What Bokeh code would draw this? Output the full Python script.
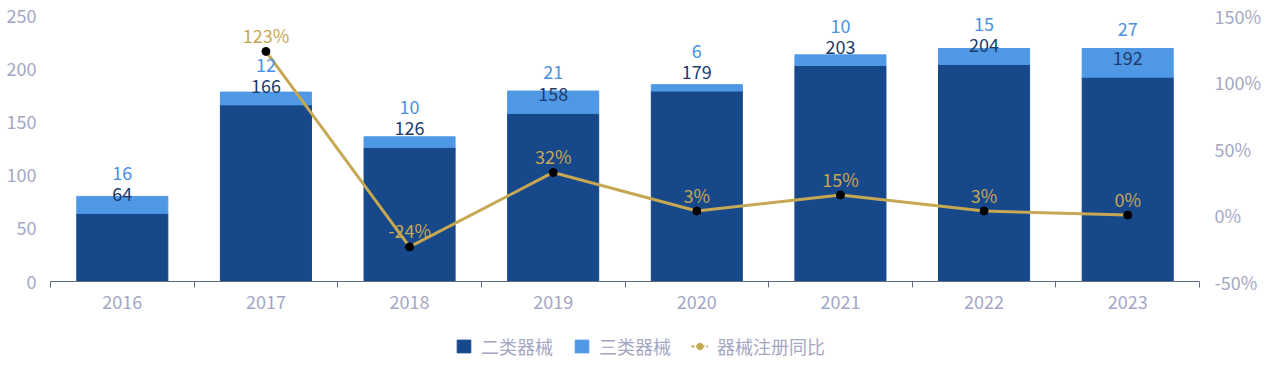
from bokeh.plotting import figure
from bokeh.layouts import column
from bokeh.models import (Range1d, LinearAxis, FixedTicker, PrintfTickFormatter,
                          Legend, LegendItem, ColumnDataSource)
from bokeh.core.properties import value
from bokeh.embed import file_html
from bokeh.resources import INLINE

# ---------------- data ----------------
years = ["2016", "2017", "2018", "2019", "2020", "2021", "2022", "2023"]
class2 = [64, 166, 126, 158, 179, 203, 204, 192]      # 二类器械
class3 = [16, 12, 10, 21, 6, 10, 15, 27]              # 三类器械
growth_years = ["2017", "2018", "2019", "2020", "2021", "2022", "2023"]
growth = [123, -24, 32, 3, 15, 3, 0]                  # 器械注册同比 (%)
left_ticks = [0, 50, 100, 150, 200, 250]
right_ticks = [-50, 0, 50, 100, 150]
series_names = ["二类器械", "三类器械", "器械注册同比"]

# ---------------- style ----------------
FONT = "Noto Sans CJK SC"
FS = "18px"
DARK = "#17488a"
LIGHT = "#4f98e6"
DARK_TXT = "#1c3b6c"
LIGHT_TXT = "#4a90e2"
GOLD = "#c6a752"
GREY = "#a4a7c4"
AXIS = "#5d6b80"

W = 1264
H1, H2 = 325, 41
BL, BR, BT, BB = 50, 52, 15, 44
frame_h = H1 - BT - BB
ppu = frame_h / (left_ticks[-1] - left_ticks[0])
pct_ppu = frame_h / (right_ticks[-1] - right_ticks[0])

# category slots: one unit per year, centre at i + 0.5
xc = [i + 0.5 for i in range(len(years))]
gx = [years.index(y) + 0.5 for y in growth_years]

p = figure(x_range=Range1d(0, len(years)),
           y_range=Range1d(left_ticks[0], left_ticks[-1]),
           width=W, height=H1, output_backend="svg", toolbar_location=None,
           x_axis_location=None, y_axis_location=None,
           min_border_left=BL, min_border_right=BR, min_border_top=BT, min_border_bottom=BB,
           outline_line_color=None, background_fill_color="white")
p.grid.visible = False
p.extra_y_ranges = {"pct": Range1d(right_ticks[0], right_ticks[-1])}

def style_axis(ax):
    ax.major_label_text_font = FONT
    ax.major_label_text_font_size = FS
    ax.major_label_text_color = GREY
    ax.minor_tick_line_color = None

yl = LinearAxis(ticker=FixedTicker(ticks=left_ticks), axis_line_color=None,
                major_tick_line_color=None, major_label_standoff=8)
style_axis(yl)
p.add_layout(yl, "left")

yr = LinearAxis(y_range_name="pct", ticker=FixedTicker(ticks=right_ticks),
                formatter=PrintfTickFormatter(format="%d%%"), axis_line_color=None,
                major_tick_line_color=None, major_label_standoff=9)
style_axis(yr)
p.add_layout(yr, "right")

# labels at slot centres (major), tick marks at slot boundaries (minor)
xl = LinearAxis(ticker=FixedTicker(ticks=xc, minor_ticks=list(range(len(years) + 1))),
                axis_line_color=AXIS, major_tick_line_color=None, major_tick_out=0,
                major_tick_in=0, major_label_standoff=7,
                major_label_overrides={c: y for c, y in zip(xc, years)})
style_axis(xl)
xl.minor_tick_line_color = AXIS
xl.minor_tick_out = 6
xl.minor_tick_in = 0
p.add_layout(xl, "below")

# ---------------- bars ----------------
src = ColumnDataSource(dict(x=xc, c2=class2, c3=class3))
bars = p.vbar_stack(["c2", "c3"], x="x", width=0.634, color=[DARK, LIGHT], source=src)

# ---------------- line ----------------
p.line(gx, growth, y_range_name="pct", line_color=GOLD, line_width=3)
p.scatter(gx, growth, y_range_name="pct", size=8, fill_color="black", line_color="black")

# ---------------- labels (centre of text placed above the bar / point) ----------------
c2_lab_y = [c + 19 / ppu for c in class2]
c3_lab_y = [max(a + b + 19 / ppu, a + 40 / ppu) for a, b in zip(class2, class3)]
pct_lab_y = [g + 16.5 / pct_ppu for g in growth]

common = dict(text_align="center", text_baseline="middle",
              text_font=value(FONT), text_font_size=FS)
p.text(x=xc, y=c2_lab_y, text=[str(v) for v in class2], text_color=DARK_TXT, **common)
p.text(x=xc, y=c3_lab_y, text=[str(v) for v in class3], text_color=LIGHT_TXT, **common)
p.text(x=gx, y=pct_lab_y, text=[f"{g}%" for g in growth], text_color=GOLD,
       y_range_name="pct", **common)

# ---------------- legend (separate strip below) ----------------
p2 = figure(width=W, height=H2, x_range=Range1d(0, 1), y_range=Range1d(0, 1),
            output_backend="svg", toolbar_location=None,
            min_border_left=BL, min_border_right=BR, min_border_top=0, min_border_bottom=0,
            x_axis_location=None, y_axis_location=None, outline_line_color=None)
p2.grid.visible = False
# legend-only renderers, kept outside the visible range
r_dark = p2.vbar(x=[-5], top=[-5], width=0.1, color=DARK)
r_light = p2.vbar(x=[-5], top=[-5], width=0.1, color=LIGHT)
r_line = p2.line(x=[-5, -4], y=[-5, -5], line_color=GOLD, line_width=2, line_dash="3 2")
r_dot = p2.scatter(x=[-5], y=[-5], size=9, fill_color=GOLD, line_color=GOLD)
legend = Legend(items=[LegendItem(label=series_names[0], renderers=[r_dark]),
                       LegendItem(label=series_names[1], renderers=[r_light]),
                       LegendItem(label=series_names[2], renderers=[r_line, r_dot])],
                orientation="horizontal", location=(405, 7),
                glyph_width=17, glyph_height=16, label_standoff=9, spacing=20,
                padding=0, margin=0, border_line_color=None, background_fill_alpha=0,
                label_text_font=FONT, label_text_font_size=FS, label_text_color=GREY)
p2.add_layout(legend, "center")

open("out.html", "w").write(file_html(column(p, p2, spacing=0), INLINE))
